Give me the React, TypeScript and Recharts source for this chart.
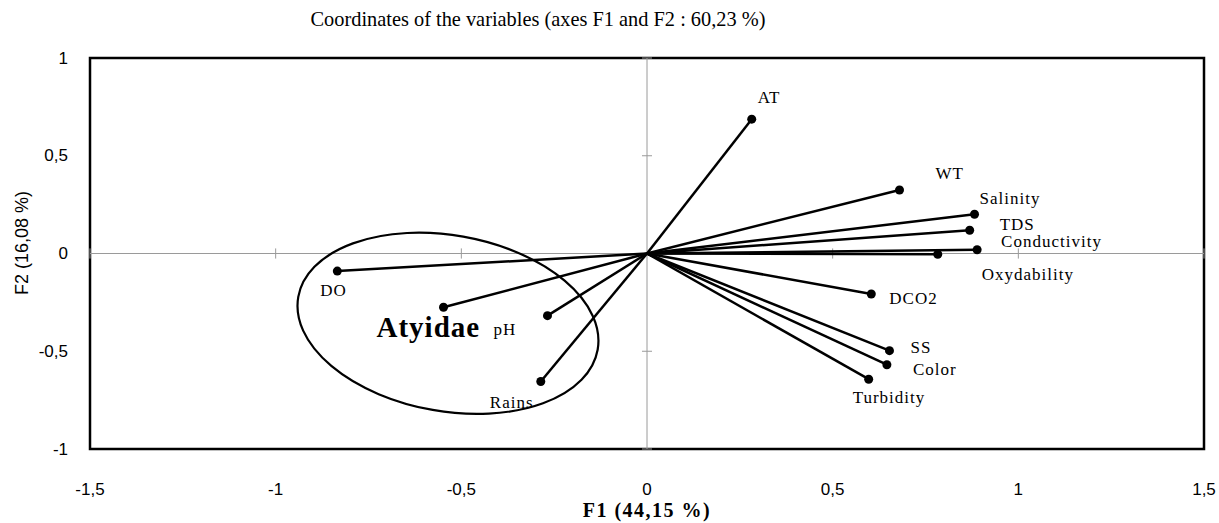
import React from 'react';
import {
    ScatterChart,
    Scatter,
    XAxis,
    YAxis,
    ReferenceLine,
    ReferenceArea,
    ReferenceDot,
} from 'recharts';

// PCA variable coordinates (F1, F2)
const variables = ['AT', 'WT', 'Salinity', 'TDS', 'Conductivity', 'Oxydability', 'DCO2', 'SS', 'Color', 'Turbidity', 'DO', 'Atyidae', 'pH', 'Rains'];
const f1 = [0.282, 0.68, 0.882, 0.869, 0.889, 0.783, 0.604, 0.653, 0.646, 0.597, -0.834, -0.548, -0.268, -0.286];
const f2 = [0.687, 0.325, 0.201, 0.119, 0.019, -0.004, -0.207, -0.497, -0.569, -0.643, -0.09, -0.275, -0.318, -0.655];

const xTicks = [-1.5, -1, -0.5, 0, 0.5, 1, 1.5];
const yTicks = [-1, -0.5, 0, 0.5, 1];

// label placement relative to each point: [dx to text start, dy to text middle]
const labelPos: Record<string, [number, number]> = {
    AT: [6, -22],
    WT: [36, -16],
    Salinity: [5, -16],
    TDS: [30, -6],
    Conductivity: [24, -8],
    Oxydability: [44, 20],
    DCO2: [18, 5],
    SS: [21, -3],
    Color: [26, 5],
    Turbidity: [-16, 18],
    DO: [-17, 19],
    Atyidae: [-67, 20],
    pH: [-54, 14],
    Rains: [-51, 21],
};

// centre of the circled group (Atyidae cluster)
const groupCenter = { x: -0.536, y: -0.357 };

const points = variables.map((name, i) => ({ name, x: f1[i], y: f2[i] }));

const fmt = (v: number) => String(v).replace('.', ',');

const serif = '"Liberation Serif", "Times New Roman", serif';
const sans = '"Liberation Sans", Arial, sans-serif';

const PointShape = (props: any) => {
    const { cx, cy, payload } = props;
    const [dx, dy] = labelPos[payload.name] || [8, 0];
    const big = payload.name === 'Atyidae';
    return (
        <g>
            <circle cx={cx} cy={cy} r={4.5} fill="#000" />
            <text
                x={cx + dx}
                y={cy + dy}
                dominantBaseline="central"
                textAnchor="start"
                fontFamily={serif}
                fontSize={big ? 29 : 17}
                fontWeight={big ? 'bold' : 'normal'}
                letterSpacing={1}
                fill="#000"
            >
                {payload.name}
            </text>
        </g>
    );
};

const GroupEllipse = (props: any) => {
    const { cx, cy } = props;
    return (
        <ellipse
            cx={cx}
            cy={cy}
            rx={152}
            ry={88}
            transform={`rotate(10 ${cx} ${cy})`}
            fill="none"
            stroke="#000"
            strokeWidth={2.2}
        />
    );
};

const XTick = (props: any) => {
    const { x, y, payload } = props;
    return (
        <text x={x} y={y} textAnchor="middle" dominantBaseline="central" fontFamily={sans} fontSize={17} fill="#000">
            {fmt(payload.value)}
        </text>
    );
};

const YTick = (props: any) => {
    const { x, y, payload } = props;
    return (
        <text x={x} y={y} textAnchor="end" dominantBaseline="central" fontFamily={sans} fontSize={17} fill="#000">
            {fmt(payload.value)}
        </text>
    );
};

export default function App() {
    const xTickLen = 0.026;
    const yTickLen = 0.0135;
    return (
        <div style={{ position: 'relative', width: 1219, height: 523, background: '#fff' }}>
            <style>{'body{margin:0}'}</style>
            <div
                style={{
                    position: 'absolute',
                    top: 6,
                    left: 0,
                    width: 1076,
                    textAlign: 'center',
                    fontFamily: serif,
                    fontSize: 22,
                    color: '#000',
                    transform: 'scaleX(0.925)',
                    transformOrigin: '538px 0',
                }}
            >
                Coordinates of the variables (axes F1 and F2 : 60,23 %)
            </div>
            <ScatterChart width={1219} height={523} margin={{ top: 58, right: 15, bottom: 0, left: 0 }}>
                <XAxis
                    type="number"
                    dataKey="x"
                    domain={[-1.5, 1.5]}
                    ticks={xTicks}
                    axisLine={false}
                    tickLine={false}
                    tickSize={0}
                    tickMargin={40}
                    height={74}
                    tick={<XTick />}
                    label={{
                        content: ({ viewBox }: any) => (
                            <text
                                x={viewBox.x + viewBox.width / 2}
                                y={517}
                                textAnchor="middle"
                                fontFamily={serif}
                                fontSize={20}
                                fontWeight="bold"
                                letterSpacing={1.5}
                                fill="#000"
                            >
                                F1 (44,15 %)
                            </text>
                        ),
                    }}
                />
                <YAxis
                    type="number"
                    dataKey="y"
                    domain={[-1, 1]}
                    ticks={yTicks}
                    axisLine={false}
                    tickLine={false}
                    tickSize={0}
                    tickMargin={22}
                    width={90}
                    tick={<YTick />}
                    label={{
                        content: () => (
                            <text
                                x={28}
                                y={243}
                                transform="rotate(-90 28 243)"
                                textAnchor="middle"
                                fontFamily={sans}
                                fontSize={18}
                                fill="#000"
                            >
                                F2 (16,08 %)
                            </text>
                        ),
                    }}
                />
                <ReferenceLine y={0} stroke="#9a9a9a" strokeWidth={1} />
                <ReferenceLine x={0} stroke="#9a9a9a" strokeWidth={1} />
                {xTicks.filter((t) => t !== 0).map((t) => (
                    <ReferenceLine
                        key={'xt' + t}
                        segment={[{ x: t, y: -xTickLen }, { x: t, y: xTickLen }]}
                        stroke="#9a9a9a"
                        strokeWidth={1}
                    />
                ))}
                {yTicks.filter((t) => t !== 0).map((t) => (
                    <ReferenceLine
                        key={'yt' + t}
                        segment={[{ x: -yTickLen, y: t }, { x: yTickLen, y: t }]}
                        stroke="#9a9a9a"
                        strokeWidth={1}
                    />
                ))}
                <ReferenceArea x1={-1.5} x2={1.5} y1={-1} y2={1} fill="none" stroke="#000" strokeWidth={2.5} fillOpacity={0} />
                {points.map((p) => (
                    <ReferenceLine
                        key={'v' + p.name}
                        segment={[{ x: 0, y: 0 }, { x: p.x, y: p.y }]}
                        stroke="#000"
                        strokeWidth={2.5}
                    />
                ))}
                <ReferenceDot x={groupCenter.x} y={groupCenter.y} r={1} shape={GroupEllipse} ifOverflow="visible" />
                <Scatter data={points} shape={PointShape} isAnimationActive={false} />
            </ScatterChart>
        </div>
    );
}
